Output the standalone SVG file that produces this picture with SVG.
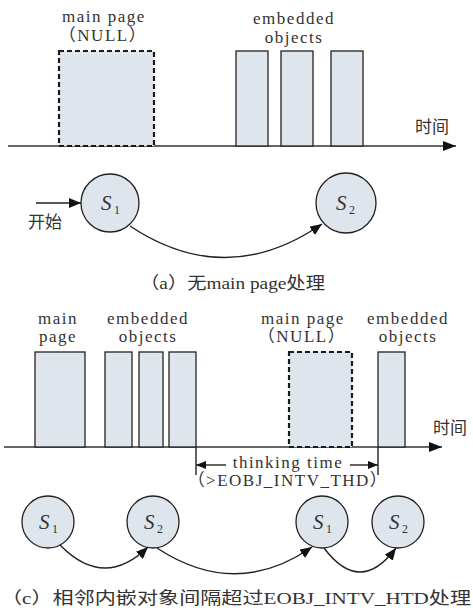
<svg xmlns="http://www.w3.org/2000/svg" width="473" height="612" viewBox="0 0 473 612">
  <style>
    .t { font-size: 17px; fill: #333; letter-spacing: 1.5px; }
    .cj { font-size: 17px; fill: #333; }
    .box { fill: #dfe5ec; stroke: #222; stroke-width: 1.3; }
    .null { fill: #dfe5ec; stroke: #1a1a1a; stroke-width: 2.2; stroke-dasharray: 5 3; }
    .axis { stroke: #333; stroke-width: 1.5; fill: none; }
    .st { fill: #dfe5ec; stroke: #222; stroke-width: 1.3; }
    .sl { font-size: 21px; font-style: italic; fill: #333; }
    .sub { font-size: 12px; fill: #333; }
    .edge { stroke: #222; stroke-width: 1.4; fill: none; }
  </style>
  <defs>
    <marker id="axisHead" markerUnits="userSpaceOnUse" markerWidth="14" markerHeight="10" refX="13" refY="5" orient="auto">
      <path d="M0,0 L13,5 L0,10 Z" fill="#111"/>
    </marker>
    <marker id="head" markerUnits="userSpaceOnUse" markerWidth="13" markerHeight="10" refX="12" refY="5" orient="auto">
      <path d="M0,0 L12,5 L0,10 Z" fill="#111"/>
    </marker>
    <marker id="dimL" markerUnits="userSpaceOnUse" markerWidth="10" markerHeight="8" refX="0" refY="4" orient="auto">
      <path d="M10,0 L0,4 L10,8 Z" fill="#111"/>
    </marker>
    <marker id="dimR" markerUnits="userSpaceOnUse" markerWidth="10" markerHeight="8" refX="10" refY="4" orient="auto">
      <path d="M0,0 L10,4 L0,8 Z" fill="#111"/>
    </marker>
  </defs>

  <!-- (a) timeline -->
  <g id="timeline-a">
    <line class="axis" x1="8" y1="146" x2="456" y2="146" marker-end="url(#axisHead)"/>
    <text class="cj" x="415" y="133" style="font-family: 'Noto Sans CJK SC', sans-serif">时间</text>
  </g>
  <g id="a-main-page">
    <rect class="null" x="59" y="51" width="95" height="95"/>
    <text class="t" x="104" y="22" text-anchor="middle" style="font-family: 'Liberation Serif', serif">main page</text>
    <text class="t" x="103" y="41" text-anchor="middle" style="font-family: 'Liberation Serif', 'Noto Sans CJK SC', serif">（NULL）</text>
  </g>
  <g id="a-embedded">
    <rect class="box" x="236" y="51" width="32" height="95"/>
    <rect class="box" x="281" y="51" width="32" height="95"/>
    <rect class="box" x="331" y="51" width="32" height="95"/>
    <text class="t" x="294" y="24" text-anchor="middle" style="font-family: 'Liberation Serif', serif">embedded</text>
    <text class="t" x="294" y="43" text-anchor="middle" style="font-family: 'Liberation Serif', serif">objects</text>
  </g>

  <!-- (a) states -->
  <g id="a-s1">
    <circle class="st" cx="110" cy="203" r="29"/>
    <text class="sl" x="101" y="210" style="font-family: 'Liberation Serif', serif">S</text>
    <text class="sub" x="114" y="214" style="font-family: 'Liberation Serif', serif">1</text>
  </g>
  <g id="a-s2">
    <circle class="st" cx="346" cy="203" r="30"/>
    <text class="sl" x="336" y="210" style="font-family: 'Liberation Serif', serif">S</text>
    <text class="sub" x="349" y="214" style="font-family: 'Liberation Serif', serif">2</text>
  </g>
  <g id="a-start">
    <text class="cj" x="28" y="228" style="font-family: 'Noto Sans CJK SC', sans-serif">开始</text>
  </g>
  <g id="a-connectors">
    <line class="edge" x1="36" y1="203" x2="81" y2="203" marker-end="url(#head)"/>
    <path class="edge" d="M130,226 Q226,290 322,224" marker-end="url(#head)"/>
  </g>
  <text class="cj" x="140" y="289" textLength="185" lengthAdjust="spacingAndGlyphs" style="font-family: 'Liberation Serif', 'Noto Sans CJK SC', serif">（a）无main page处理</text>

  <!-- (c) timeline -->
  <g id="timeline-c">
    <line class="axis" x1="4" y1="447" x2="442" y2="447" marker-end="url(#axisHead)"/>
    <text class="cj" x="433" y="434" style="font-family: 'Noto Sans CJK SC', sans-serif">时间</text>
  </g>
  <g id="c-main-page">
    <rect class="box" x="35" y="352" width="50" height="95"/>
    <text class="t" x="58" y="324" text-anchor="middle" style="font-family: 'Liberation Serif', serif">main</text>
    <text class="t" x="58" y="342" text-anchor="middle" style="font-family: 'Liberation Serif', serif">page</text>
  </g>
  <g id="c-embedded-1">
    <rect class="box" x="105" y="352" width="27" height="95"/>
    <rect class="box" x="139" y="352" width="24" height="95"/>
    <rect class="box" x="169" y="352" width="27" height="95"/>
    <text class="t" x="148" y="324" text-anchor="middle" style="font-family: 'Liberation Serif', serif">embedded</text>
    <text class="t" x="148" y="342" text-anchor="middle" style="font-family: 'Liberation Serif', serif">objects</text>
  </g>
  <g id="c-main-null">
    <rect class="null" x="289" y="352" width="63" height="95"/>
    <text class="t" x="303" y="324" text-anchor="middle" style="font-family: 'Liberation Serif', serif">main page</text>
    <text class="t" x="302" y="342" text-anchor="middle" style="font-family: 'Liberation Serif', 'Noto Sans CJK SC', serif">（NULL）</text>
  </g>
  <g id="c-embedded-2">
    <rect class="box" x="378" y="352" width="27" height="95"/>
    <text class="t" x="408" y="324" text-anchor="middle" style="font-family: 'Liberation Serif', serif">embedded</text>
    <text class="t" x="408" y="342" text-anchor="middle" style="font-family: 'Liberation Serif', serif">objects</text>
  </g>
  <g id="thinking-time">
    <line class="edge" x1="196" y1="447" x2="196" y2="475" stroke-width="1.2"/>
    <line class="edge" x1="378" y1="447" x2="378" y2="475" stroke-width="1.2"/>
    <line class="edge" x1="196" y1="465" x2="226" y2="465" marker-start="url(#dimL)"/>
    <line class="edge" x1="350" y1="465" x2="378" y2="465" marker-end="url(#dimR)"/>
    <text class="t" x="288" y="468" text-anchor="middle" style="font-family: 'Liberation Serif', serif">thinking time</text>
    <text class="t" x="288" y="486" text-anchor="middle" style="font-family: 'Liberation Serif', 'Noto Sans CJK SC', serif">（&gt;EOBJ_INTV_THD）</text>
  </g>

  <!-- (c) states -->
  <g id="c-s1a">
    <circle class="st" cx="48" cy="522" r="26"/>
    <text class="sl" x="39" y="529" style="font-family: 'Liberation Serif', serif">S</text>
    <text class="sub" x="52" y="533" style="font-family: 'Liberation Serif', serif">1</text>
  </g>
  <g id="c-s2a">
    <circle class="st" cx="153" cy="522" r="26"/>
    <text class="sl" x="144" y="529" style="font-family: 'Liberation Serif', serif">S</text>
    <text class="sub" x="157" y="533" style="font-family: 'Liberation Serif', serif">2</text>
  </g>
  <g id="c-s1b">
    <circle class="st" cx="322" cy="522" r="26"/>
    <text class="sl" x="313" y="529" style="font-family: 'Liberation Serif', serif">S</text>
    <text class="sub" x="326" y="533" style="font-family: 'Liberation Serif', serif">1</text>
  </g>
  <g id="c-s2b">
    <circle class="st" cx="398" cy="522" r="26"/>
    <text class="sl" x="389" y="529" style="font-family: 'Liberation Serif', serif">S</text>
    <text class="sub" x="402" y="533" style="font-family: 'Liberation Serif', serif">2</text>
  </g>
  <g id="c-connectors">
    <path class="edge" d="M60,545 Q104,590 148,547" marker-end="url(#head)"/>
    <path class="edge" d="M157,548 Q236,600 312,547" marker-end="url(#head)"/>
    <path class="edge" d="M324,548 Q360,596 396,548" marker-end="url(#head)"/>
  </g>
  <text class="cj" x="1" y="604" textLength="470" lengthAdjust="spacingAndGlyphs" style="font-family: 'Liberation Serif', 'Noto Sans CJK SC', serif">（c）相邻内嵌对象间隔超过EOBJ_INTV_HTD处理</text>
</svg>
